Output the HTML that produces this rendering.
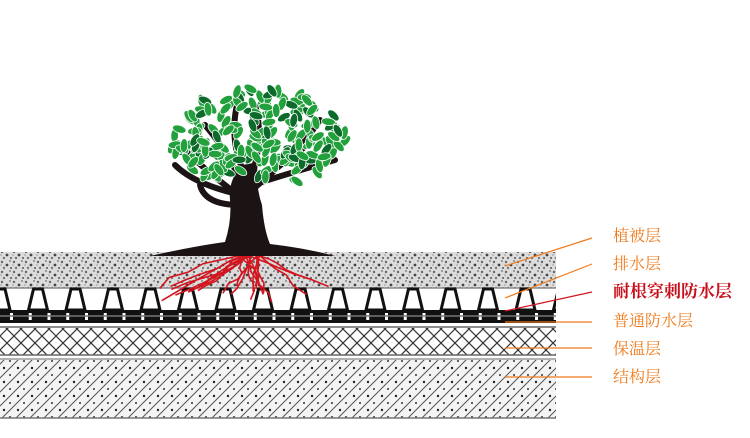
<!DOCTYPE html>
<html><head><meta charset="utf-8"><style>
html,body{margin:0;padding:0;background:#fff;width:750px;height:438px;overflow:hidden}
.l{position:absolute;left:613px;font-family:"Liberation Serif","Noto Serif CJK SC",serif;font-size:16px;color:#f07a1a;line-height:18px}
</style></head><body>
<svg id="s" width="750" height="438" style="position:absolute;left:0;top:0">
<defs>
<pattern id="soil" width="12" height="10" patternUnits="userSpaceOnUse">
<rect width="12" height="10" fill="#dcdcdc"/>
<circle cx="2" cy="2" r="1.2" fill="#666"/><circle cx="7" cy="5" r="1.4" fill="#444"/><circle cx="10" cy="1" r="1" fill="#888"/><circle cx="4" cy="8" r="1.2" fill="#777"/><circle cx="11" cy="8" r="1" fill="#555"/><circle cx="1" cy="5" r=".8" fill="#999"/>
</pattern>
<pattern id="xh" width="14" height="14" patternUnits="userSpaceOnUse">
<rect width="14" height="14" fill="#fff"/>
<path d="M0 0L14 14M14 0L0 14" stroke="#333" stroke-width="1.2"/>
</pattern>
<pattern id="dh" width="14" height="14" patternUnits="userSpaceOnUse">
<rect width="14" height="14" fill="#f4f4f4"/>
<path d="M-2 16L16 -2M-9 9L9 -9M5 23L23 5" stroke="#555" stroke-width="1"/>
<circle cx="4" cy="4" r="1.2" fill="#222"/><circle cx="10" cy="11" r="1" fill="#333"/>
</pattern>
<clipPath id="c"><rect x="0" y="0" width="556" height="438"/></clipPath>
</defs>
<rect x="0" y="252" width="556" height="36" fill="url(#soil)"/>
<line x1="0" y1="288" x2="556" y2="288" stroke="#888" stroke-width="1.5"/>
<g id="cups" clip-path="url(#c)"></g>
<rect x="0" y="310" width="556" height="13" fill="#111"/>
<g id="gaps"></g>
<line x1="0" y1="316" x2="556" y2="316" stroke="#777" stroke-width="1.5"/>
<line x1="0" y1="327" x2="556" y2="327" stroke="#666" stroke-width="1.5"/>
<rect x="0" y="328" width="556" height="27" fill="url(#xh)"/>
<line x1="0" y1="355" x2="556" y2="355" stroke="#666" stroke-width="1.5"/>
<line x1="0" y1="359" x2="556" y2="359" stroke="#666" stroke-width="1"/>
<rect x="0" y="360" width="556" height="58" fill="url(#dh)"/>
<line x1="0" y1="418" x2="556" y2="418" stroke="#777" stroke-width="1.5"/>
<g id="roots" stroke="#d4151f" fill="none" stroke-width="1.6"></g>
<g id="branches" stroke="#1c1414" fill="none" stroke-linecap="round"></g>
<path d="M150 256 Q195 246 225 242 Q232 220 230 200 Q228 180 242 165 L258 162 Q255 185 262 205 Q264 230 270 244 Q305 248 335 256 Z" fill="#1c1414"/>
<g id="leaves"></g>
<g stroke-width="1.2">
<line x1="505" y1="266" x2="592" y2="238" stroke="#f07a1a"/>
<line x1="505" y1="298" x2="592" y2="264" stroke="#f07a1a"/>
<line x1="505" y1="311" x2="592" y2="292" stroke="#d4151f"/>
<line x1="505" y1="322" x2="592" y2="322" stroke="#f07a1a"/>
<line x1="505" y1="348" x2="592" y2="348" stroke="#f07a1a"/>
<line x1="505" y1="377" x2="592" y2="377" stroke="#f07a1a"/>
</g>
</svg>
<div class="l" style="top:228px">植被层</div>
<div class="l" style="top:256px">排水层</div>
<div class="l" style="top:283px;font-weight:bold;color:#c8101c;font-size:17px">耐根穿刺防水层</div>
<div class="l" style="top:313px">普通防水层</div>
<div class="l" style="top:341px">保温层</div>
<div class="l" style="top:369px">结构层</div>
<script>
var NS="http://www.w3.org/2000/svg";
function el(t,a,p){var e=document.createElementNS(NS,t);for(var k in a)e.setAttribute(k,a[k]);document.getElementById(p).appendChild(e);return e;}
var seed=7;function r(){seed=(seed*9301+49297)%233280;return seed/233280;}
for(var x=-8;x<556;x+=37.5){el("path",{d:"M"+(x+4)+" 289 L"+(x+13)+" 289 L"+(x+18)+" 310 L"+(x-1)+" 310 Z",fill:"#fff",stroke:"#111","stroke-width":"3"},"cups");}
for(var x=10;x<556;x+=18.75){el("rect",{x:x,y:313,width:3,height:7,fill:"#fff"},"gaps");}
for(var i=0;i<22;i++){var sx=240+r()*20,sy=255,d="M"+sx+" "+sy,cx=sx,cy=sy,dir=(r()-0.5)*2;for(var j=0;j<5;j++){cx+=dir*(12+r()*10)+(r()-.5)*8;cy+=4+r()*7;if(cy>308)cy=308;d+=" L"+cx.toFixed(1)+" "+cy.toFixed(1);}el("path",{d:d},"roots");}
var br=[[245,200,210,175,185,150],[245,195,235,160,205,125],[250,190,285,160,315,140],[252,185,300,170,335,160],[242,195,195,185,175,165],[250,180,265,140,255,105],[245,175,228,140,238,100],[252,190,300,150,320,120],[240,205,205,205,200,185]];
br.forEach(function(b){el("path",{d:"M"+b[0]+" "+b[1]+" Q"+b[2]+" "+b[3]+" "+b[4]+" "+b[5],"stroke-width":"6"},"branches");});
for(var i=0;i<230;i++){var a=r()*Math.PI*2,rad=Math.sqrt(r());var lx=258+Math.cos(a)*rad*88,ly=140+Math.sin(a)*rad*52;if(ly>178&&Math.abs(lx-250)<45)continue;var col=r()<0.15?"#0c6a2a":"#22a03c";el("ellipse",{cx:lx.toFixed(1),cy:ly.toFixed(1),rx:3.8,ry:7,fill:col,stroke:"#fff","stroke-width":".8",transform:"rotate("+Math.round(r()*180)+" "+lx.toFixed(1)+" "+ly.toFixed(1)+")"},"leaves");}
</script>
</body></html>
